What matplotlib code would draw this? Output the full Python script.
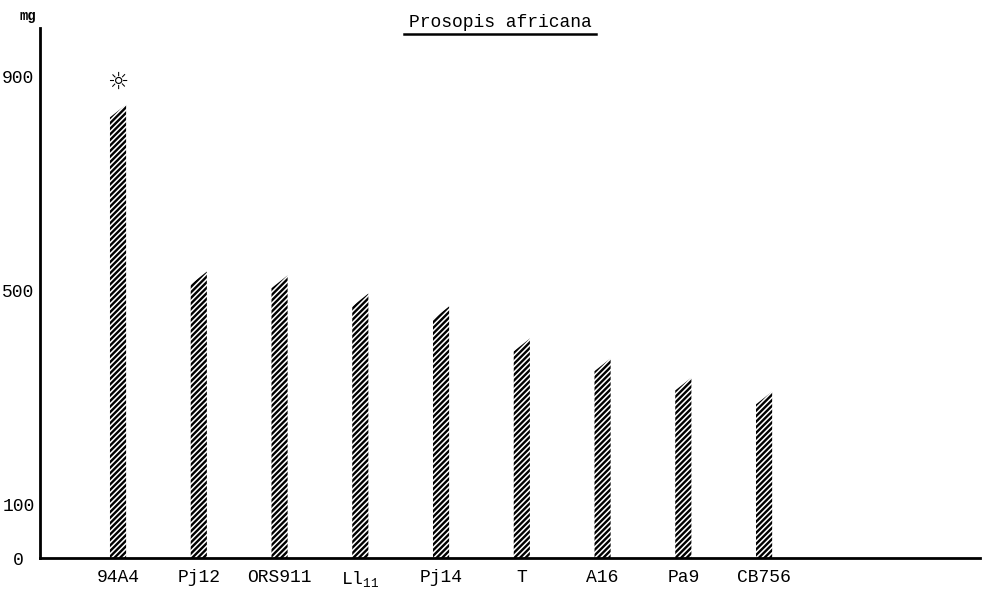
import numpy as np
import matplotlib.pyplot as plt
from matplotlib.lines import Line2D

# strains and dry weight (mg)
strains = ["94A4", "Pj12", "ORS911", r"Ll$_{11}$", "Pj14", "T", "A16", "Pa9", "CB756"]
weights = [835, 523, 516, 482, 458, 398, 361, 325, 299]
ytick_vals = [0, 100, 500, 900]
ytick_labels = ["0 ", "100", "500", "900"]

plt.rcParams['font.family'] = ['Liberation Mono', 'DejaVu Sans']
plt.rcParams['mathtext.fontset'] = 'custom'
plt.rcParams['mathtext.rm'] = 'Liberation Mono'
plt.rcParams['mathtext.it'] = 'Liberation Mono'
plt.rcParams['hatch.linewidth'] = 1.7

fig = plt.figure(figsize=(9.86, 6.01), dpi=100)
ax = fig.add_axes([0.0406, 0.0715, 0.953, 0.882])

x = np.arange(len(strains))
w = 0.2
slant = 12  # hand-drawn bars have a sloped top
for xi, v in zip(x, weights):
    ax.fill([xi - w / 2, xi + w / 2, xi + w / 2, xi - w / 2],
            [0, 0, v + slant, v - slant],
            facecolor='white', edgecolor='black', linewidth=0, hatch='//////')

# star over the best strain
ax.annotate("\u263c", (x[0], weights[0]), xytext=(0, 12), textcoords='offset points',
            ha='center', va='bottom', fontsize=17, fontweight='bold',
            family=['DejaVu Sans'])

ax.set_xlim(-0.966, 10.67)
ax.set_ylim(0, 990)
ax.set_xticks(x)
ax.set_xticklabels(strains, fontsize=13)
ax.set_yticks(ytick_vals)
ax.set_yticklabels(ytick_labels, fontsize=13)
ax.tick_params(length=0, pad=4)
ax.tick_params(axis='x', pad=8)

for s in ['top', 'right']:
    ax.spines[s].set_visible(False)
for s in ['left', 'bottom']:
    ax.spines[s].set_linewidth(2)

fig.text(0.037, 0.973, "mg", fontsize=10, fontweight='bold', ha='right', va='center')
fig.text(0.507, 0.963, "Prosopis africana", fontsize=13, ha='center', va='center')
fig.add_artist(Line2D([0.41, 0.604], [0.944, 0.944], color='black', lw=1.8,
                      transform=fig.transFigure))

fig.savefig("out.png", dpi=100)
